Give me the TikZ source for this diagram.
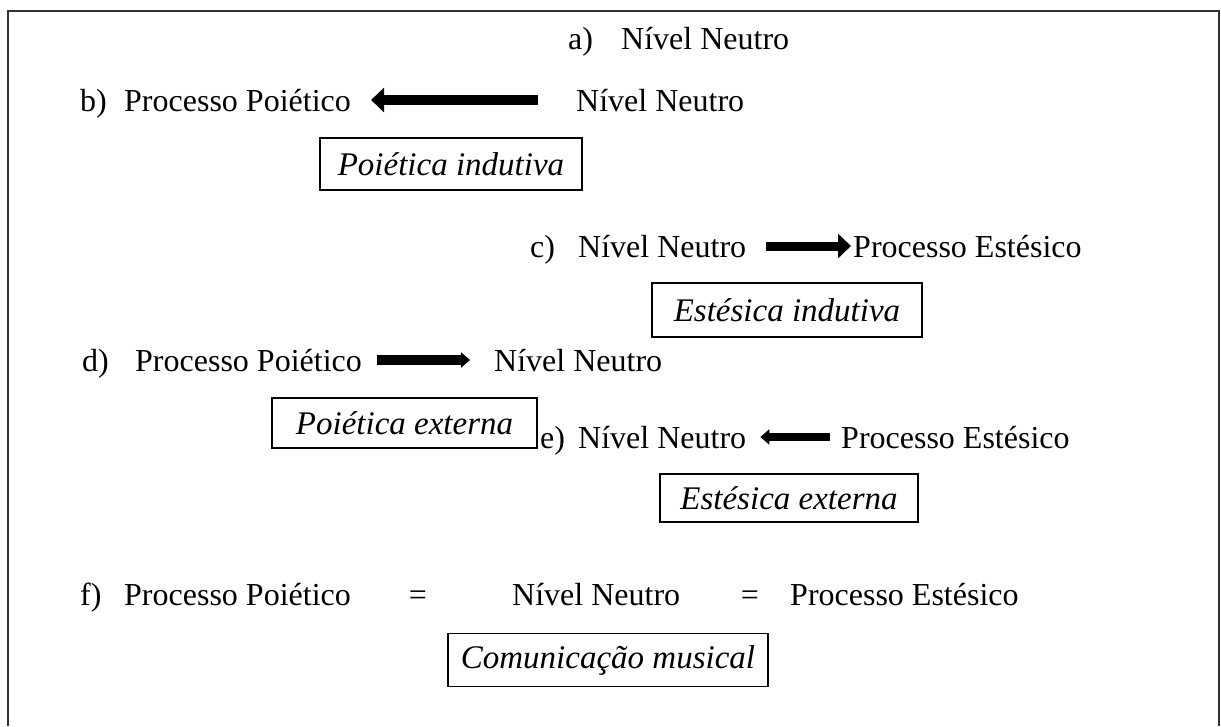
\documentclass[tikz,border=0pt]{standalone}
\usepackage{fontspec}
\setmainfont{Liberation Serif}
\usetikzlibrary{arrows.meta}
\begin{document}
\begin{tikzpicture}[x=1pt,y=-1pt,
  txt/.style={inner sep=0pt,text height=22pt,text depth=0pt,anchor=west,font=\fontsize{32}{36}\selectfont},
  lbl/.style={draw,line width=1.1pt,inner sep=0pt,font=\fontsize{33}{36}\selectfont\itshape},
  fatR/.style={line width=10pt,-{Triangle[length=13pt,width=24pt]}},
  fatS/.style={line width=9pt,-{Triangle[length=9pt,width=15pt]}}
]
\useasboundingbox (0,0) rectangle (1221,726);
\draw[line width=2pt,black!80] (8,726) -- (8,11) -- (1219,11) -- (1219,726);
% a
\node[txt] (aL) at (568,38) {a)};
\node[txt] (aNN) at (621,38) {Nível Neutro};
% b
\node[txt] (bL) at (80,100) {b)};
\node[txt] (bPP) at (124,100) {Processo Poiético};
\node[txt] (bNN) at (576,100) {Nível Neutro};
\draw[fatR,shorten <=38pt,shorten >=20pt] (bNN.west) -- (bPP.east);
\node[lbl,minimum width=262pt,minimum height=52pt] (bBox) at (451,164) {Poiética indutiva};
% c
\node[txt] (cL) at (530,246) {c)};
\node[txt] (cNN) at (578,246) {Nível Neutro};
\node[txt] (cPE) at (853,246) {Processo Estésico};
\draw[fatR,line width=9pt,shorten <=20pt,shorten >=2pt] (cNN.east) -- (cPE.west);
\node[lbl,minimum width=270pt,minimum height=54pt] (cBox) at (787,310) {Estésica indutiva};
% d
\node[txt] (dL) at (82,360) {d)};
\node[txt] (dPP) at (135,360) {Processo Poiético};
\node[txt] (dNN) at (494,360) {Nível Neutro};
\draw[fatS,line width=10pt,shorten <=15pt,shorten >=24pt] (dPP.east) -- (dNN.west);
\node[lbl,minimum width=265pt,minimum height=50pt] (dBox) at (404.5,423) {Poiética externa};
% e
\node[txt] (eL) at (540,437) {e)};
\node[txt] (eNN) at (578,437) {Nível Neutro};
\node[txt] (ePE) at (841,437) {Processo Estésico};
\draw[fatS,line width=8pt,shorten <=11pt,shorten >=14pt] (ePE.west) -- (eNN.east);
\node[lbl,minimum width=258pt,minimum height=48pt] (eBox) at (789,498) {Estésica externa};
% f
\node[txt] (fL) at (80,594) {f)};
\node[txt] (fPP) at (124,594) {Processo Poiético};
\node[txt,anchor=center] (fEq1) at (418,594) {=};
\node[txt] (fNN) at (512,594) {Nível Neutro};
\node[txt,anchor=center] (fEq2) at (750,594) {=};
\node[txt] (fPE) at (790,594) {Processo Estésico};
\node[lbl,minimum width=320pt,minimum height=53pt] (fBox) at (608,660) {Comunicação musical};
\end{tikzpicture}
\end{document}
